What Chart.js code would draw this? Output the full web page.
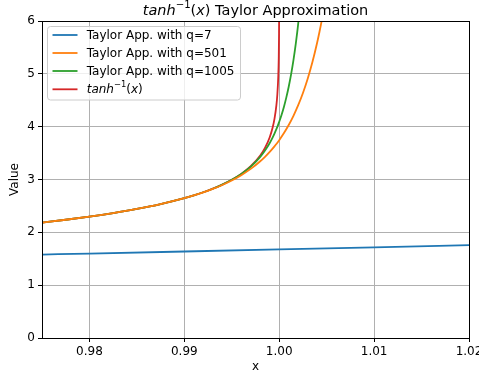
<!DOCTYPE html>
<html>
<head>
<meta charset="utf-8">
<script src="https://cdn.jsdelivr.net/npm/chart.js"></script>
<style>
html,body{margin:0;padding:0;background:#fff;}
canvas{display:block;}
</style>
</head>
<body>
<canvas id="c" width="479" height="379"></canvas>
<script>
// ---- data ----
const xTicks = [0.98, 0.99, 1.00, 1.01, 1.02];
const yTicks = [0, 1, 2, 3, 4, 5, 6];

const seriesNames = ["Taylor App. with q=7", "Taylor App. with q=501", "Taylor App. with q=1005", "tanh^-1(x)"];

const q7X = [0.975, 0.98, 0.99, 1.00, 1.01, 1.02];
const q7Y = [1.5798, 1.5985, 1.6368, 1.6762, 1.7168, 1.7587];

const q501X = [0.975, 0.9775, 0.98, 0.9825, 0.985, 0.9875, 0.99, 0.991, 0.992, 0.993, 0.994, 0.995, 0.996, 0.997, 0.998, 0.9985, 0.999, 0.9995, 0.9997, 0.9998, 1.0, 1.0005, 1.001, 1.0015, 1.002, 1.0025, 1.003, 1.0035, 1.004, 1.00425, 1.0045, 1.005];
const q501Y = [2.1847, 2.2381, 2.2976, 2.3650, 2.4427, 2.5345, 2.6462, 2.6986, 2.7569, 2.8223, 2.8967, 2.9823, 3.0822, 3.2010, 3.3446, 3.4282, 3.5219, 3.6267, 3.6719, 3.6955, 3.7445, 3.8783, 4.0307, 4.2052, 4.4061, 4.6383, 4.9082, 5.2233, 5.5928, 5.8015, 6.0281, 6.5430];

const q1005X = [0.975, 0.9775, 0.98, 0.9825, 0.985, 0.9875, 0.99, 0.991, 0.992, 0.993, 0.994, 0.995, 0.996, 0.997, 0.998, 0.9985, 0.999, 0.9993, 0.9995, 0.9997, 0.9998, 0.9999, 1.0, 1.00025, 1.0005, 1.00075, 1.001, 1.00125, 1.0015, 1.00175, 1.002, 1.0025];
const q1005Y = [2.1847, 2.2381, 2.2976, 2.3650, 2.4427, 2.5345, 2.6467, 2.6996, 2.7587, 2.8256, 2.9029, 2.9940, 3.1045, 3.2441, 3.4294, 3.5482, 3.6916, 3.7933, 3.8689, 3.9518, 3.9962, 4.0429, 4.0920, 4.2261, 4.3789, 4.5541, 4.7557, 4.9891, 5.2605, 5.5776, 5.9500, 6.9088];

const atanhX = [0.975, 0.9775, 0.98, 0.9825, 0.985, 0.9875, 0.99, 0.991, 0.992, 0.993, 0.994, 0.995, 0.996, 0.997, 0.998, 0.9985, 0.999, 0.9993, 0.9995, 0.9997, 0.9998, 0.9999, 0.99995, 0.99998, 0.99999, 0.999995];
const atanhY = [2.1847, 2.2381, 2.2976, 2.3650, 2.4427, 2.5345, 2.6467, 2.6996, 2.7587, 2.8257, 2.9031, 2.9945, 3.1063, 3.2504, 3.4534, 3.5974, 3.8002, 3.9786, 4.1469, 4.4024, 4.6051, 4.9517, 5.2983, 5.7565, 6.1030, 6.4496];

const colors = ["#1f77b4", "#ff7f0e", "#2ca02c", "#d62728"];

function pts(xs, ys) { return xs.map((x, i) => ({x: x, y: ys[i]})); }

const FONT = "'DejaVu Sans', sans-serif";
const FS = 12;

function richWidth(ctx, parts) {
  let w = 0;
  for (const p of parts) { ctx.font = p.font; w += ctx.measureText(p.t).width; }
  return w;
}
function drawRich(ctx, parts, x, y) {
  let cx = x;
  for (const p of parts) {
    ctx.font = p.font;
    ctx.fillText(p.t, cx, y + (p.dy || 0));
    cx += ctx.measureText(p.t).width;
  }
}
function mathParts(size, rest) {
  const it = "oblique " + size + "px " + FONT;
  const up = size + "px " + FONT;
  const sup = (size * 0.7).toFixed(2) + "px " + FONT;
  const arr = [
    {t: "tanh", font: it},
    {t: "\u22121", font: sup, dy: -size * 0.42},
    {t: "(", font: up},
    {t: "x", font: it},
    {t: ")", font: up}
  ];
  if (rest) arr.push({t: rest, font: up});
  return arr;
}

const decor = {
  id: 'decor',
  afterDraw(chart) {
    const ctx = chart.ctx;
    const a = chart.chartArea;
    ctx.save();
    // spines
    ctx.strokeStyle = "#000";
    ctx.lineWidth = 1;
    ctx.strokeRect(Math.round(a.left) + 0.5, Math.round(a.top) + 0.5, Math.round(a.right - a.left), Math.round(a.bottom - a.top));
    // title
    ctx.fillStyle = "#000";
    ctx.textBaseline = "alphabetic";
    const tp = mathParts(14.5, " Taylor Approximation");
    const tw = richWidth(ctx, tp);
    drawRich(ctx, tp, (a.left + a.right) / 2 - tw / 2, 14.5);
    // legend
    const lx = 47.5, ly = 26.5, lw = 193, lh = 73.5;
    ctx.beginPath();
    if (ctx.roundRect) ctx.roundRect(lx, ly, lw, lh, 3); else ctx.rect(lx, ly, lw, lh);
    ctx.fillStyle = "rgba(255,255,255,0.8)";
    ctx.fill();
    ctx.strokeStyle = "#cccccc";
    ctx.lineWidth = 1;
    ctx.stroke();
    const rowsY = [35, 53, 71, 89.3];
    for (let i = 0; i < 4; i++) {
      ctx.strokeStyle = colors[i];
      ctx.lineWidth = 1.8;
      ctx.beginPath();
      ctx.moveTo(52.5, rowsY[i]);
      ctx.lineTo(77.5, rowsY[i]);
      ctx.stroke();
      ctx.fillStyle = "#000";
      ctx.textBaseline = "middle";
      if (i < 3) {
        ctx.font = FS + "px " + FONT;
        ctx.fillText(seriesNames[i], 86.7, rowsY[i] + 0.5);
      } else {
        drawRich(ctx, mathParts(FS, ""), 86.7, rowsY[i] + 0.5);
      }
    }
    ctx.restore();
  }
};

const ds = [
  {data: pts(q7X, q7Y)},
  {data: pts(q501X, q501Y)},
  {data: pts(q1005X, q1005Y)},
  {data: pts(atanhX, atanhY)}
].map((d, i) => Object.assign(d, {
  label: seriesNames[i],
  borderColor: colors[i],
  backgroundColor: colors[i],
  borderWidth: 1.8,
  pointRadius: 0,
  fill: false,
  cubicInterpolationMode: 'monotone'
}));

new Chart(document.getElementById('c'), {
  type: 'line',
  data: {datasets: ds},
  options: {
    responsive: false,
    animation: false,
    devicePixelRatio: 1,
    layout: {padding: {left: 0, right: 10, top: 21, bottom: 0}},
    plugins: {legend: {display: false}, title: {display: false}, tooltip: {enabled: false}},
    scales: {
      x: {
        type: 'linear',
        min: 0.975, max: 1.02,
        afterBuildTicks: s => { s.ticks = xTicks.map(v => ({value: v})); },
        afterFit: s => { s.height = 41; s.paddingLeft = 0; s.paddingRight = 0; },
        ticks: {color: "#000", font: {family: FONT, size: FS}, padding: 3, maxRotation: 0, autoSkip: false,
                callback: v => Number(v).toFixed(2)},
        grid: {color: "#b0b0b0", lineWidth: 1, tickColor: "#000", tickLength: 4, drawTicks: true},
        border: {display: false},
        title: {display: true, text: "x", color: "#000", font: {family: FONT, size: FS}, padding: {top: 0, bottom: 5}}
      },
      y: {
        type: 'linear',
        min: 0, max: 6,
        afterBuildTicks: s => { s.ticks = yTicks.map(v => ({value: v})); },
        afterFit: s => { s.width = 42; s.paddingTop = 0; s.paddingBottom = 0; },
        ticks: {color: "#000", font: {family: FONT, size: FS}, padding: 3, autoSkip: false},
        grid: {color: "#b0b0b0", lineWidth: 1, tickColor: "#000", tickLength: 4, drawTicks: true},
        border: {display: false},
        title: {display: true, text: "Value", color: "#000", font: {family: FONT, size: FS}, padding: {top: 8, bottom: 0}}
      }
    }
  },
  plugins: [decor]
});
</script>
</body>
</html>
